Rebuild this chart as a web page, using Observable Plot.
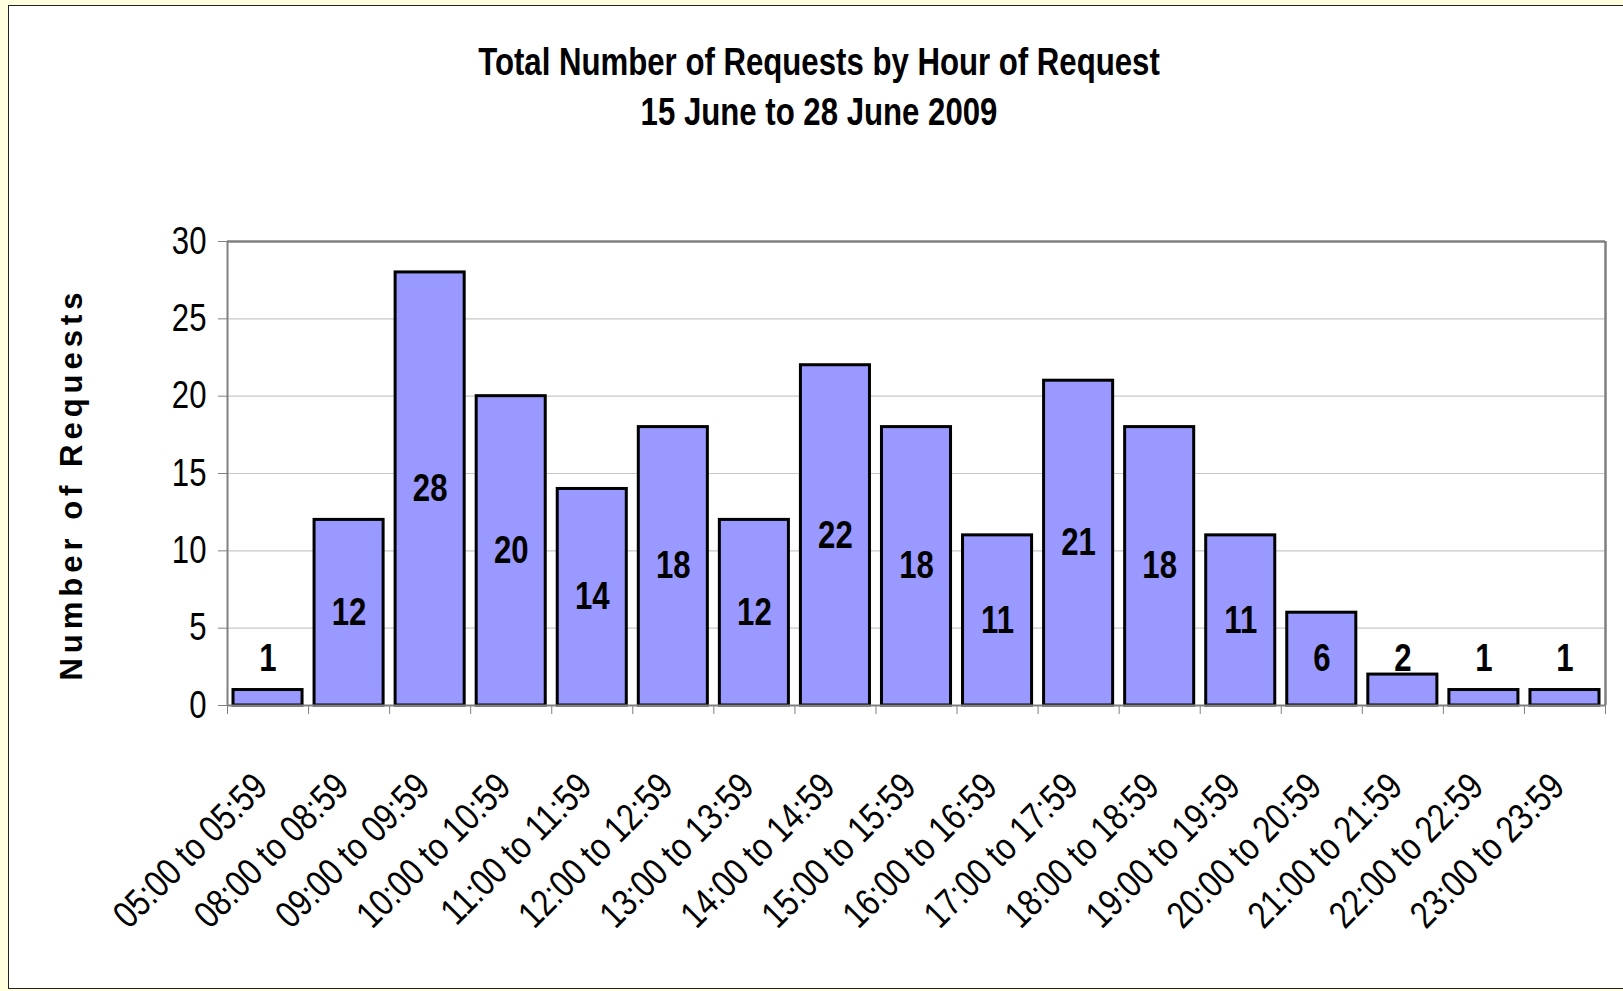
<!DOCTYPE html>
<html><head><meta charset="utf-8">
<script src="https://cdn.jsdelivr.net/npm/d3@7"></script>
<script src="https://cdn.jsdelivr.net/npm/@observablehq/plot@0.6"></script>
<style>
body{margin:0;background:#FFFFE0;width:1623px;height:991px;overflow:hidden;position:relative;font-family:'Liberation Sans Narrow','Arial Narrow','Liberation Sans',sans-serif;}
#box{position:absolute;left:8px;top:5px;width:1640px;height:982px;background:#fff;border:1.5px solid #222;}
.t{position:absolute;left:0;width:1638px;text-align:center;font-weight:bold;font-size:38px;line-height:38px;color:#000;transform:scaleX(0.82);transform-origin:819px 50%}
#ylab{position:absolute;left:72px;top:484px;transform:translate(-50%,-50%) rotate(-90deg);white-space:nowrap;font-family:'Liberation Sans',Arial,sans-serif;font-weight:bold;font-size:31px;letter-spacing:5px;color:#000}
#chart{position:absolute;left:0;top:0}
</style></head><body>
<div id="box"></div>
<div class="t" style="top:43px">Total Number of Requests by Hour of Request</div>
<div class="t" style="top:93px">15 June to 28 June 2009</div>
<div id="ylab">Number of Requests</div>
<div id="chart"></div>
<script>
const categories = ["05:00 to 05:59","08:00 to 08:59","09:00 to 09:59","10:00 to 10:59","11:00 to 11:59","12:00 to 12:59","13:00 to 13:59","14:00 to 14:59","15:00 to 15:59","16:00 to 16:59","17:00 to 17:59","18:00 to 18:59","19:00 to 19:59","20:00 to 20:59","21:00 to 21:59","22:00 to 22:59","23:00 to 23:59"];
const values = [1,12,28,20,14,18,12,22,18,11,21,18,11,6,2,1,1];
const yTicks = [0,5,10,15,20,25,30];
const gridTicks = [5,10,15,20,25];

const data = categories.map((c, i) => ({i, label: c, value: values[i]}));
const FONT = "'Liberation Sans Narrow','Arial Narrow','Liberation Sans',sans-serif";

const chart = Plot.plot({
  width: 1623, height: 991,
  marginLeft: 227, marginRight: 18, marginTop: 241, marginBottom: 286,
  style: {fontFamily: FONT, background: "transparent", overflow: "visible", color: "#000"},
  x: {domain: [0, categories.length], axis: null},
  y: {domain: [0, 30], axis: null},
  marks: [
    Plot.gridY(gridTicks, {stroke: "#c8c8c8", strokeOpacity: 1, strokeWidth: 1.2}),
    Plot.ruleY([30], {stroke: "#808080", strokeWidth: 2.5}),
    Plot.ruleX([categories.length], {stroke: "#808080", strokeWidth: 2.5}),
    Plot.ruleX([0], {stroke: "#808080", strokeWidth: 2}),
    Plot.axisY({ticks: yTicks, tickSize: 9, tickPadding: 12, fontSize: 38, stroke: "#808080", fill: "#000", label: null}),
    Plot.rectY(data, {x1: "i", x2: d => d.i + 1, y: "value", insetLeft: 6, insetRight: 6, fill: "#9999FF", stroke: "#000", strokeWidth: 3}),
    Plot.ruleY([0], {stroke: "#808080", strokeWidth: 2}),
    Plot.axisX({ticks: d3.range(categories.length + 1), tickSize: 9, tickFormat: () => "", stroke: "#808080", label: null}),
    Plot.text(data, {x: d => d.i + 0.5, y: d => Math.max(d.value / 2, 3), text: d => String(d.value), fontWeight: "bold", fontSize: 38, fill: "#000"}),
    Plot.text(data, {x: d => d.i + 0.5, y: 0, text: "label", rotate: -45, textAnchor: "end", dx: -7, dy: 75, fontSize: 38, fill: "#000"})
  ]
});
// condense glyphs horizontally (Arial Narrow look) around each text's own anchor
const SX = 0.82;
d3.select(chart).selectAll("text").each(function() {
  let x = parseFloat(this.getAttribute("x"));
  if (!isFinite(x) || /em/.test(this.getAttribute("x") || "")) x = 0;
  const tr = this.getAttribute("transform") || "";
  this.setAttribute("transform", `${tr} translate(${x},0) scale(${SX},1) translate(${-x},0)`.trim());
});
document.getElementById("chart").appendChild(chart);
</script>
</body></html>
